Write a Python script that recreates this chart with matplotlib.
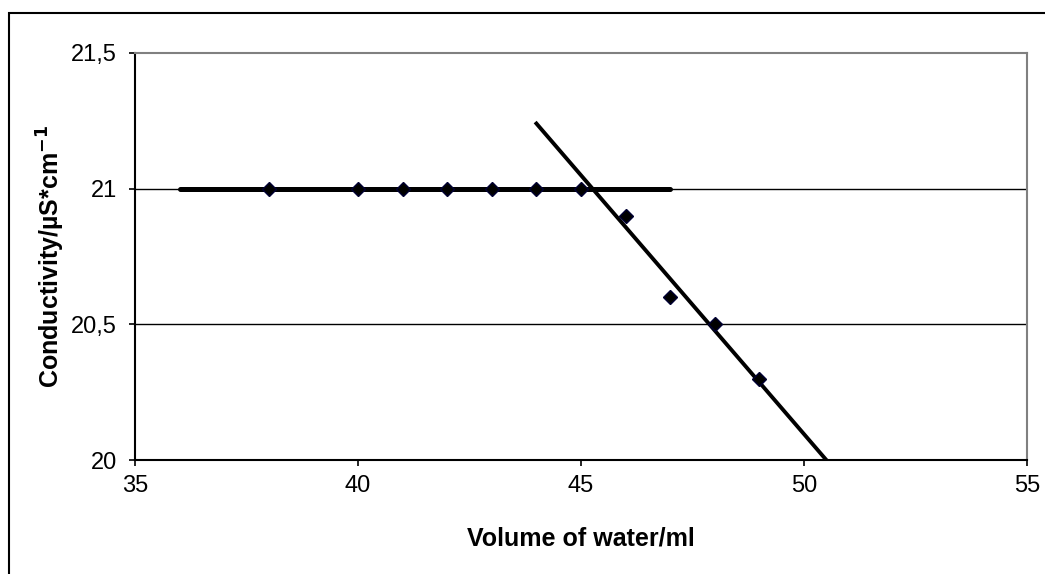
import matplotlib.pyplot as plt
from matplotlib.patches import Rectangle
from matplotlib.ticker import FuncFormatter

# measured conductivity while adding water
volume = [38, 40, 41, 42, 43, 44, 45, 46, 47, 48, 49]
conductivity = [21.0, 21.0, 21.0, 21.0, 21.0, 21.0, 21.0, 20.9, 20.6, 20.5, 20.3]

# fitted lines: plateau and falling branch
plateau_x = [36, 47]
plateau_y = [21.0, 21.0]
slope_x = [44, 50.5]
slope_y = [21.24, 20.0]

x_ticks = [35, 40, 45, 50, 55]
y_ticks = [20, 20.5, 21, 21.5]

plt.rcParams["font.family"] = ["Liberation Sans", "DejaVu Sans"]

fig = plt.figure(figsize=(10.45, 5.74), dpi=100)
ax = fig.add_axes([0.1292, 0.1986, 0.8536, 0.7091])

ax.plot(plateau_x, plateau_y, color="black", linewidth=3.6, solid_capstyle="round", zorder=3)
ax.plot(slope_x, slope_y, color="black", linewidth=2.8, zorder=3)
ax.plot(volume, conductivity, linestyle="none", marker="D", markersize=7.5,
        color="black", markeredgecolor="#000033", zorder=4)

ax.set_xlim(35, 55)
ax.set_ylim(20, 21.5)
ax.set_xticks(x_ticks)
ax.set_yticks(y_ticks)

comma = FuncFormatter(lambda v, _: f"{v:g}".replace(".", ","))
ax.xaxis.set_major_formatter(comma)
ax.yaxis.set_major_formatter(comma)

for v in y_ticks[1:-1]:
    ax.axhline(v, color="black", linewidth=1.0, zorder=1)

ax.tick_params(direction="out", length=4, width=1.2, labelsize=17)
ax.tick_params(axis="y", pad=9)
ax.tick_params(axis="x", pad=7)
for side in ("left", "bottom"):
    ax.spines[side].set_color("black")
    ax.spines[side].set_linewidth(1.5)
for side in ("top", "right"):
    ax.spines[side].set_color("#808080")
    ax.spines[side].set_linewidth(1.5)

ax.set_xlabel("Volume of water/ml", fontsize=18, fontweight="bold", labelpad=21)
ax.set_ylabel(r"Conductivity/µS*cm$^{\mathbf{-1}}$", fontsize=18, fontweight="bold", labelpad=3)

# frame around the whole chart
fig.patches.append(Rectangle((9 / 1045, -0.05), 1.2, 1 - 13 / 574 + 0.05,
                             transform=fig.transFigure, fill=False,
                             edgecolor="black", linewidth=1.5))

fig.savefig("out.png", dpi=100)
